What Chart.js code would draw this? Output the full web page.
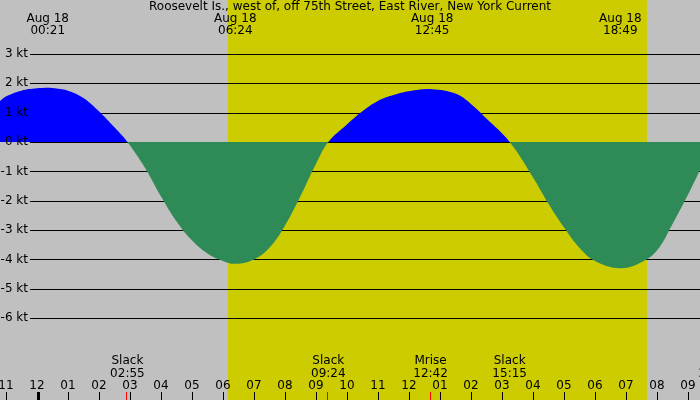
<!DOCTYPE html>
<html>
<head>
<meta charset="utf-8">
<script src="https://cdn.jsdelivr.net/npm/chart.js@4"></script>
<style>
  body { margin: 0; background: #c0c0c0; }
  #wrap { width: 700px; height: 400px; }
</style>
</head>
<body>
<div id="wrap"><canvas id="tideChart"></canvas></div>
<script>
// Hours since midnight Aug 18, current speed in knots
const hours = [-1.19, -1, -0.5, 0, 0.35, 0.5, 1, 1.5, 2, 2.5, 2.92,
  3.5, 4, 4.5, 5, 5.5, 6, 6.4, 7, 7.5, 8, 8.5, 9, 9.4,
  10, 10.5, 11, 11.5, 12, 12.75, 13.5, 14, 14.5, 15.25,
  16, 16.5, 17, 17.5, 18, 18.82, 19.5, 20, 20.5, 21, 21.39];
const speeds = [1.4, 1.55, 1.75, 1.83, 1.85, 1.84, 1.75, 1.5, 1.05, 0.5, 0,
  -0.9, -1.85, -2.7, -3.35, -3.8, -4.05, -4.15, -4.0, -3.6, -2.85, -1.85, -0.75, 0,
  0.6, 1.05, 1.4, 1.6, 1.73, 1.8, 1.65, 1.3, 0.8, 0,
  -1.2, -2.1, -2.9, -3.6, -4.05, -4.3, -4.1, -3.7, -2.8, -1.8, -0.95];
const yTicks = [3, 2, 1, 0, -1, -2, -3, -4, -5, -6];
const hourLabels = ['11','12','01','02','03','04','05','06','07','08','09','10','11','12','01','02','03','04','05','06','07','08','09'];
const peakLabels = [[0.35, 'Aug 18', '00:21'], [6.4, 'Aug 18', '06:24'], [12.75, 'Aug 18', '12:45'], [18.82, 'Aug 18', '18:49']];
const events = [[2.92, 'Slack', '02:55', 'red'], [9.4, 'Slack', '09:24', 'red'], [12.7, 'Mrise', '12:42', 'red'], [15.25, 'Slack', '15:15', null], [21.9, 'Slack', '21:54', null]];
const sunrise = 6.16, sunset = 19.68;
const title = 'Roosevelt Is., west of, off 75th Street, East River, New York Current';

const decor = {
  id: 'decor',
  beforeDatasetsDraw(chart) {
    const c = chart.ctx, x = chart.scales.x, y = chart.scales.y;
    c.save();
    c.fillStyle = '#c0c0c0';
    c.fillRect(0, 0, 700, 400);
    c.fillStyle = '#cccc00';
    c.fillRect(x.getPixelForValue(sunrise), 0, x.getPixelForValue(sunset) - x.getPixelForValue(sunrise), 400);
    c.strokeStyle = '#000'; c.lineWidth = 1;
    yTicks.forEach(v => {
      const py = Math.round(y.getPixelForValue(v)) + 0.5;
      c.beginPath(); c.moveTo(30, py); c.lineTo(700, py); c.stroke();
    });
    c.restore();
  },
  afterDatasetsDraw(chart) {
    const c = chart.ctx, x = chart.scales.x, y = chart.scales.y;
    c.save();
    c.font = '12px "DejaVu Sans", sans-serif';
    c.fillStyle = '#000';
    c.textBaseline = 'middle';
    c.textAlign = 'right';
    yTicks.forEach(v => c.fillText(v + ' kt', 28, y.getPixelForValue(v)));
    c.textAlign = 'center';
    c.fillText(title, 350, 7);
    peakLabels.forEach(p => {
      const px = x.getPixelForValue(p[0]);
      c.fillText(p[1], px, 19); c.fillText(p[2], px, 31);
    });
    events.forEach(e => {
      const px = x.getPixelForValue(e[0]);
      c.fillText(e[1], px, 361); c.fillText(e[2], px, 374);
      if (e[3]) { c.fillStyle = e[3]; c.fillRect(Math.round(px) - 1, 392, 1, 8); c.fillStyle = '#000'; }
    });
    hourLabels.forEach((lab, i) => {
      const h = i - 1, px = Math.round(x.getPixelForValue(h));
      c.fillText(lab, px, 386);
      c.fillRect(px, 392, (h === 0) ? 3 : 1, 8);
    });
    c.restore();
  }
};

new Chart(document.getElementById('tideChart'), {
  type: 'line',
  data: {
    datasets: [{
      data: hours.map((h, i) => ({ x: h, y: speeds[i] })),
      borderWidth: 0,
      pointRadius: 0,
      tension: 0.4,
      fill: { target: 'origin', above: '#0000ff', below: '#2e8b57' }
    }]
  },
  options: {
    responsive: true,
    maintainAspectRatio: false,
    animation: false,
    layout: { padding: 0 },
    plugins: { legend: { display: false }, tooltip: { enabled: false } },
    scales: {
      x: { type: 'linear', min: -1.19, max: 21.39, display: false },
      y: { min: -8.79, max: 4.84, display: false }
    }
  },
  plugins: [decor]
});
</script>
</body>
</html>
